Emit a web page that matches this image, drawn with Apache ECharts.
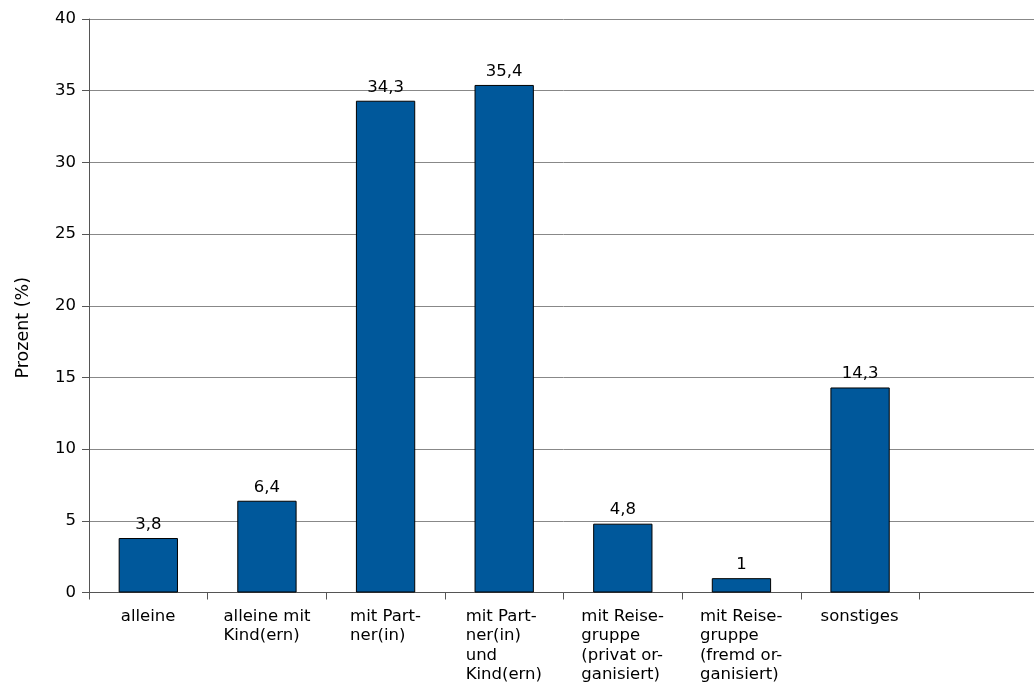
<!DOCTYPE html>
<html>
<head>
<meta charset="utf-8">
<script src="https://cdn.jsdelivr.net/npm/echarts@6/dist/echarts.min.js"></script>
<style>
html,body{margin:0;padding:0;background:#fff;overflow:hidden;}
#chart{width:1038px;height:691px;}
</style>
</head>
<body>
<div id="chart"></div>
<script>
const categories = [
  "alleine",
  "alleine mit\nKind(ern)",
  "mit Part-\nner(in)",
  "mit Part-\nner(in)\nund\nKind(ern)",
  "mit Reise-\ngruppe\n(privat or-\nganisiert)",
  "mit Reise-\ngruppe\n(fremd or-\nganisiert)",
  "sonstiges",
  ""
];
const values = [3.8, 6.4, 34.3, 35.4, 4.8, 1, 14.3, null];
const yAxisName = "Prozent (%)";

const FONT = "DejaVu Sans, Liberation Sans, Arial, sans-serif";
const FS = 16.5;
const ctx = document.createElement('canvas').getContext('2d');
ctx.font = FS + 'px ' + FONT;
const rich = {};
categories.forEach((c, i) => {
  const w = Math.max(1, ...c.split('\n').map(l => ctx.measureText(l).width));
  rich['c' + i] = {width: Math.ceil(w), align: 'left', fontSize: FS, fontFamily: FONT, lineHeight: 19.5, color: '#000'};
});

const chart = echarts.init(document.getElementById('chart'), null, {renderer: 'canvas'});
chart.setOption({
  animation: false,
  backgroundColor: '#fff',
  grid: {left: 89, right: 0, top: 19, bottom: 98.5, containLabel: false},
  xAxis: {
    type: 'category',
    data: categories,
    boundaryGap: true,
    axisLine: {show: true, lineStyle: {color: '#555', width: 1}},
    axisTick: {show: true, length: 7, alignWithLabel: false, lineStyle: {color: '#555'}},
    axisLabel: {
      interval: 0,
      margin: 14,
      hideOverlap: false,
      formatter: (v, i) => v ? v.split('\n').map(l => '{c' + i + '|' + l + '}').join('\n') : '',
      rich: rich,
      fontSize: FS, fontFamily: FONT, color: '#000', lineHeight: 19.5
    },
    splitLine: {show: false}
  },
  yAxis: {
    type: 'value',
    min: 0, max: 40, interval: 5,
    name: yAxisName,
    nameLocation: 'middle',
    nameGap: 57,
    nameRotate: 90,
    nameTextStyle: {fontSize: 17.5, fontFamily: FONT, color: '#000', padding: [0, 44, 0, 0]},
    axisLine: {show: true, lineStyle: {color: '#555', width: 1}},
    axisTick: {show: true, length: 7, inside: false, lineStyle: {color: '#555'}},
    axisLabel: {margin: 13, fontSize: FS, fontFamily: FONT, color: '#000'},
    splitLine: {show: true, lineStyle: {color: '#888', width: 1}}
  },
  series: [{
    type: 'bar',
    data: values,
    barWidth: '50%',
    itemStyle: {color: '#00589b', borderColor: '#000', borderWidth: 1},
    label: {
      show: true,
      position: 'top',
      distance: 5,
      fontSize: FS, fontFamily: FONT, color: '#000',
      formatter: p => (p.value == null ? '' : String(p.value).replace('.', ','))
    }
  }]
});
</script>
</body>
</html>
